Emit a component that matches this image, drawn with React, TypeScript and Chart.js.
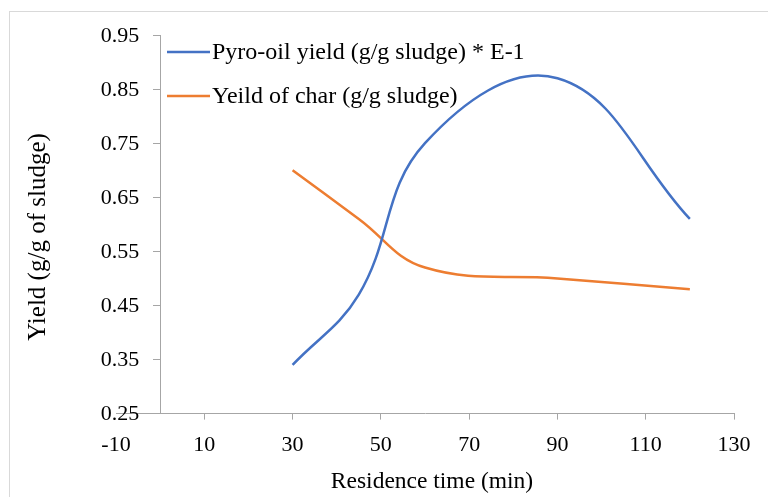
import React, { useEffect, useRef } from 'react';
import { Chart, registerables } from 'chart.js';

Chart.register(...registerables);

const residenceTimes = [30, 45, 60, 90, 120];
const pyroOilYield = [0.34, 0.47, 0.75, 0.87, 0.61];
const charYield = [0.7, 0.61, 0.52, 0.5, 0.48];
const xTickValues = [-10, 10, 30, 50, 70, 90, 110, 130];
const yTickValues = [0.25, 0.35, 0.45, 0.55, 0.65, 0.75, 0.85, 0.95];
const seriesLabels = ['Pyro-oil yield (g/g sludge) * E-1', 'Yeild of char (g/g sludge)'];
const seriesColors = ['#4472C4', '#ED7D31'];
const xTitle = 'Residence time (min)';
const yTitle = 'Yield (g/g of sludge)';

const FONT = '"Liberation Serif", "Times New Roman", serif';
const AXIS_COLOR = '#a6a6a6';

const decorPlugin = {
  id: 'decor',
  beforeDraw(chart: any) {
    const { ctx, width, height } = chart;
    ctx.save();
    ctx.fillStyle = '#ffffff';
    ctx.fillRect(0, 0, width, height);
    ctx.strokeStyle = '#d9d9d9';
    ctx.lineWidth = 1;
    ctx.strokeRect(9.5, 11.5, width + 20, height + 20);
    ctx.restore();
  },
  afterDraw(chart: any) {
    const { ctx } = chart;
    const xs = chart.scales.x;
    const ys = chart.scales.y;
    ctx.save();
    ctx.fillStyle = '#000000';
    ctx.textBaseline = 'middle';

    // y tick labels, placed left of the y axis (which crosses at x = 0)
    const axisX = xs.getPixelForValue(0);
    ctx.font = `22px ${FONT}`;
    ctx.textAlign = 'right';
    ys.ticks.forEach((t: any) => {
      ctx.fillText(Number(t.value).toFixed(2), axisX - 21, ys.getPixelForValue(t.value) + 1);
    });

    // legend inside plot area
    ctx.font = `24px ${FONT}`;
    chart.data.datasets.forEach((ds: any, i: number) => {
      const y = 52 + i * 44;
      ctx.strokeStyle = ds.borderColor;
      ctx.lineWidth = 2.5;
      ctx.beginPath();
      ctx.moveTo(167, y);
      ctx.lineTo(210, y);
      ctx.stroke();
      ctx.textAlign = 'left';
      ctx.fillText(ds.label, 212, y + 1);
    });

    // axis titles
    ctx.font = `23.5px ${FONT}`;
    ctx.textAlign = 'center';
    ctx.fillText(xTitle, 432, 482);
    ctx.font = `25px ${FONT}`;
    ctx.translate(38, 237);
    ctx.rotate(-Math.PI / 2);
    ctx.fillText(yTitle, 0, 0);
    ctx.restore();
  },
};

export default function App() {
  const canvasRef = useRef<HTMLCanvasElement | null>(null);

  useEffect(() => {
    document.body.style.margin = '0';
    const canvas = canvasRef.current;
    if (!canvas) return;
    const chart = new Chart(canvas, {
      type: 'line',
      data: {
        datasets: [
          {
            label: seriesLabels[0],
            data: residenceTimes.map((x, i) => ({ x, y: pyroOilYield[i] })),
            borderColor: seriesColors[0],
            backgroundColor: seriesColors[0],
            borderWidth: 2.5,
            pointRadius: 0,
            tension: 0.4,
            fill: false,
          },
          {
            label: seriesLabels[1],
            data: residenceTimes.map((x, i) => ({ x, y: charYield[i] })),
            borderColor: seriesColors[1],
            backgroundColor: seriesColors[1],
            borderWidth: 2.5,
            pointRadius: 0,
            tension: 0.4,
            fill: false,
          },
        ],
      },
      options: {
        responsive: false,
        animation: false,
        devicePixelRatio: 1,
        layout: { padding: { left: 116, right: 34, top: 35, bottom: 27 } },
        plugins: {
          legend: { display: false },
          tooltip: { enabled: false },
          title: { display: false },
        },
        scales: {
          x: {
            type: 'linear',
            min: -10,
            max: 130,
            afterBuildTicks: (scale: any) => {
              scale.ticks = xTickValues.map((v) => ({ value: v }));
            },
            grid: {
              display: true,
              drawOnChartArea: false,
              drawTicks: true,
              tickLength: 6,
              tickColor: (c: any) => (c.tick && c.tick.value === -10 ? 'rgba(0,0,0,0)' : AXIS_COLOR),
              lineWidth: 1,
            },
            border: { display: true, color: AXIS_COLOR, width: 1 },
            ticks: {
              color: '#000000',
              font: { family: FONT, size: 22 },
              padding: 12,
              maxRotation: 0,
              autoSkip: false,
              callback: (v: any) => String(v),
            },
          },
          y: {
            type: 'linear',
            position: { x: 0 } as any,
            min: 0.25,
            max: 0.95,
            afterBuildTicks: (scale: any) => {
              scale.ticks = yTickValues.map((v) => ({ value: v }));
            },
            grid: {
              display: true,
              drawOnChartArea: false,
              drawTicks: true,
              tickLength: 7,
              tickColor: AXIS_COLOR,
              lineWidth: 1,
            },
            border: { display: true, color: AXIS_COLOR, width: 1 },
            ticks: { display: false },
          },
        },
      } as any,
      plugins: [decorPlugin],
    });
    return () => chart.destroy();
  }, []);

  return (
    <div style={{ width: 768, height: 497 }}>
      <canvas ref={canvasRef} width={768} height={497} style={{ display: 'block' }} />
    </div>
  );
}
